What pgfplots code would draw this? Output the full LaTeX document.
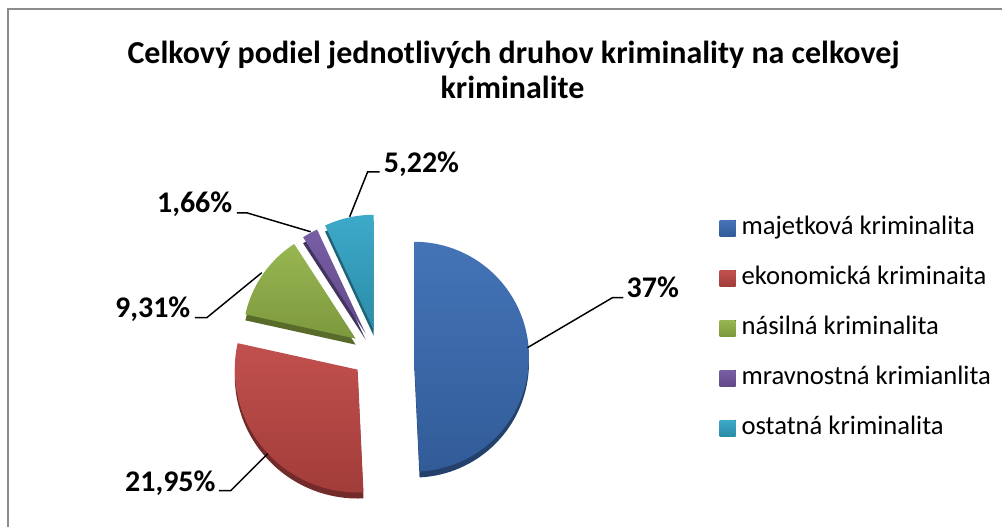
\documentclass[border=0pt]{standalone}
\usepackage{fontspec}
\setmainfont{Carlito}
\usepackage{pgfplots}
\pgfplotsset{compat=1.18}
\usepackage{pgfplotstable}

\definecolor{cA}{HTML}{3A6CB3}
\definecolor{cB}{HTML}{BE4744}
\definecolor{cC}{HTML}{92B348}
\definecolor{cD}{HTML}{7156A0}
\definecolor{cE}{HTML}{33A5C6}
\definecolor{frame}{HTML}{8C8C8C}

% value, slice centre (px), radius (px)
\pgfplotstableread{
name value cx cy r
maj 37 414.5 357 115
eko 21.95 358 370 123
nas 9.31 356 339 113
mra 1.66 366 334 115
ost 5.22 374 330 115
}\data

\newcommand\getv[3]{\pgfplotstablegetelem{#1}{#2}\of\data\global\let#3\pgfplotsretval}
\getv{0}{value}\vA \getv{1}{value}\vB \getv{2}{value}\vC \getv{3}{value}\vD \getv{4}{value}\vE
\getv{0}{cx}\xA \getv{1}{cx}\xB \getv{2}{cx}\xC \getv{3}{cx}\xD \getv{4}{cx}\xE
\getv{0}{cy}\yA \getv{1}{cy}\yB \getv{2}{cy}\yC \getv{3}{cy}\yD \getv{4}{cy}\yE
\getv{0}{r}\rA \getv{1}{r}\rB \getv{2}{r}\rC \getv{3}{r}\rD \getv{4}{r}\rE
\pgfmathsetmacro\tot{\vA+\vB+\vC+\vD+\vE}
\pgfmathsetmacro\aA{90}
\pgfmathsetmacro\aB{\aA-360*\vA/\tot}
\pgfmathsetmacro\aC{\aB-360*\vB/\tot}
\pgfmathsetmacro\aD{\aC-360*\vC/\tot}
\pgfmathsetmacro\aE{\aD-360*\vD/\tot}
\pgfmathsetmacro\aF{\aE-360*\vE/\tot}
\def\depth{6}
\pgfmathsetmacro\syA{\yA+\depth}\pgfmathsetmacro\syB{\yB+\depth}\pgfmathsetmacro\syC{\yC+\depth}
\pgfmathsetmacro\syD{\yD+\depth}\pgfmathsetmacro\syE{\yE+\depth}

% #1 from-angle #2 to-angle (from<to) #3 cx #4 cy #5 r #6 style
\newcommand\sector[6]{%
  \addplot[#6, draw=none, domain=#1:#2, samples=90]
    ({#3+#5*cos(x)},{#4-#5*sin(x)}) -- (axis cs:#3,#4) -- cycle;
}

\begin{document}
\begin{tikzpicture}
\begin{axis}[
  hide axis, scale only axis, clip=false,
  width=752.25pt, height=396pt,
  xmin=0, xmax=1003, ymin=0, ymax=528, y dir=reverse,
  legend image code/.code={\fill[#1] (0pt,-6pt) rectangle (12pt,6pt);},
  legend style={at={(axis cs:720,328.5)}, anchor=west, draw=none, fill=none,
    inner sep=0pt, font=\fontsize{20}{23}\selectfont, row sep=20pt,
    nodes={inner sep=0pt, anchor=west, text height=13.5pt, text depth=4pt},
    /tikz/every odd column/.append style={column sep=4.5pt}},
  legend cell align=left,
]
\path (axis cs:0,0) rectangle (axis cs:1003,528);
\draw[frame, line width=1.5pt] (axis cs:1003,9) -- (axis cs:8,9) -- (axis cs:8,528);

% side (depth) faces
\sector{\aB}{\aA}{\xA}{\syA}{\rA}{forget plot, fill=cA!60!black}
\sector{\aC}{\aB}{\xB}{\syB}{\rB}{forget plot, fill=cB!60!black}
\sector{\aD}{\aC}{\xC}{\syC}{\rC}{forget plot, fill=cC!60!black}
\sector{\aE}{\aD}{\xD}{\syD}{\rD}{forget plot, fill=cD!60!black}
\sector{\aF}{\aE}{\xE}{\syE}{\rE}{forget plot, fill=cE!60!black}
% top faces
\sector{\aB}{\aA}{\xA}{\yA}{\rA}{top color=cA!95!white, bottom color=cA!85!black}
\sector{\aC}{\aB}{\xB}{\yB}{\rB}{top color=cB!95!white, bottom color=cB!85!black}
\sector{\aD}{\aC}{\xC}{\yC}{\rC}{top color=cC!95!white, bottom color=cC!85!black}
\sector{\aE}{\aD}{\xD}{\yD}{\rD}{top color=cD!95!white, bottom color=cD!85!black}
\sector{\aF}{\aE}{\xE}{\yE}{\rE}{top color=cE!95!white, bottom color=cE!85!black}
\legend{majetková kriminalita, ekonomická kriminaita, násilná kriminalita, mravnostná krimianlita, ostatná kriminalita}

% title
\node[font=\bfseries\fontsize{24}{28}\selectfont, anchor=base] at (axis cs:514,64) {Celkový podiel jednotlivých druhov kriminality na celkovej};
\node[font=\bfseries\fontsize{24}{28}\selectfont, anchor=base] at (axis cs:513,99) {kriminalite};

% data labels with leader lines
\begin{scope}[every node/.style={font=\bfseries\fontsize{22.5}{26}\selectfont, anchor=base west, inner sep=0pt}]
\draw[black, line width=1.1pt] (axis cs:528,348) -- (axis cs:613,298) -- (axis cs:624,298);
\node at (axis cs:627,298) {37\%};
\draw[black, line width=1.1pt] (axis cs:350,217) -- (axis cs:368,172) -- (axis cs:380,172);
\node at (axis cs:384,173) {5,22\%};
\draw[black, line width=1.1pt] (axis cs:311,232) -- (axis cs:247,213) -- (axis cs:237,213);
\node at (axis cs:157,213) {1,66\%};
\draw[black, line width=1.1pt] (axis cs:262,273) -- (axis cs:207,318) -- (axis cs:195,318);
\node at (axis cs:115,318) {9,31\%};
\draw[black, line width=1.1pt] (axis cs:268,454) -- (axis cs:231,491) -- (axis cs:219,491);
\node at (axis cs:125,492) {21,95\%};
\end{scope}
\end{axis}
\end{tikzpicture}
\end{document}
